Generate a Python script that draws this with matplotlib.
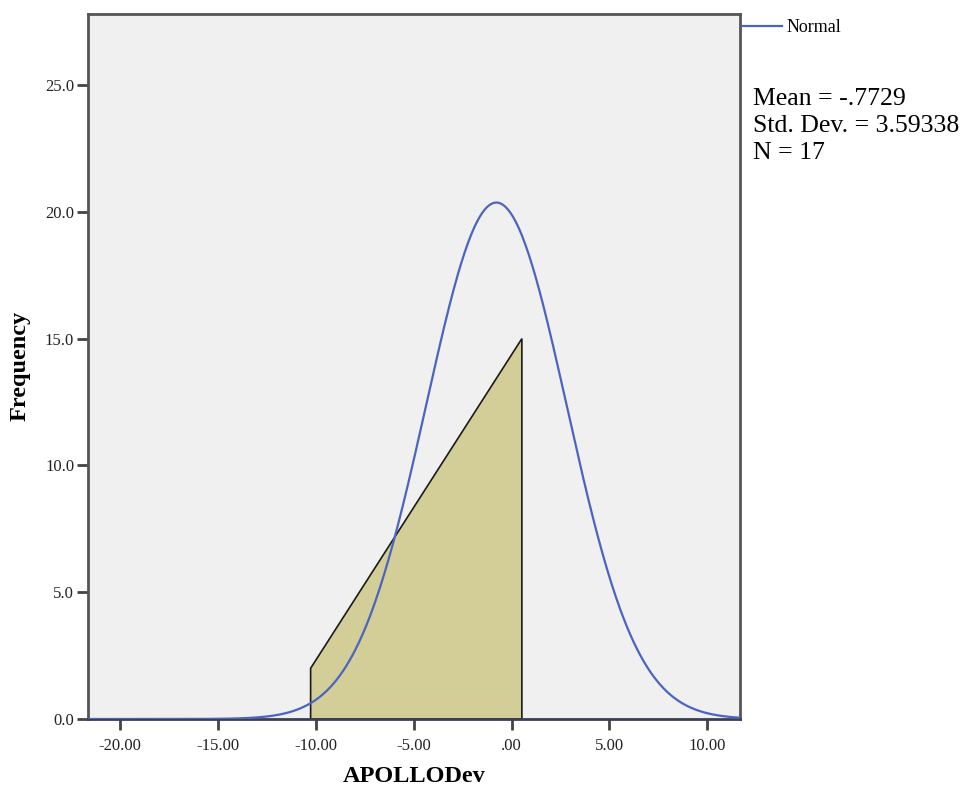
import numpy as np
import matplotlib
matplotlib.use("Agg")
import matplotlib.pyplot as plt

# Data
poly_x = [-10.26, -10.26, 0.53, 0.53]
poly_y = [0.0, 2.0, 15.0, 0.0]
mean = -0.7729
std = 3.59338
n = 17
bin_width = 10.79
xticks = [-20, -15, -10, -5, 0, 5, 10]
xticklabels = ["-20.00", "-15.00", "-10.00", "-5.00", ".00", "5.00", "10.00"]
yticks = [0, 5, 10, 15, 20, 25]
yticklabels = ["0.0", "5.0", "10.0", "15.0", "20.0", "25.0"]

plt.rcParams['font.family'] = ['Liberation Serif', 'DejaVu Serif']

fig = plt.figure(figsize=(9.64, 7.87), dpi=100)
ax = fig.add_axes([88/964, 1-719/787, (740-88)/964, (719-13.5)/787])
ax.set_facecolor('#f0f0f0')

ax.fill(poly_x, poly_y, facecolor='#d3ce97', edgecolor='#1a1a1a', linewidth=1.2, zorder=2)

xs = np.linspace(-21.63, 11.67, 600)
ys = n * bin_width / (std * np.sqrt(2*np.pi)) * np.exp(-0.5*((xs-mean)/std)**2)
ax.plot(xs, ys, color='#4a64c0', linewidth=1.6, zorder=3)

ax.set_xlim(-21.63, 11.67)
ax.set_ylim(0, 27.82)
ax.set_xticks(xticks)
ax.set_xticklabels(xticklabels)
ax.set_yticks(yticks)
ax.set_yticklabels(yticklabels)
ax.tick_params(axis='both', direction='out', length=8, width=2, color='#444444',
               labelsize=12, labelcolor='#222222')
ax.tick_params(axis='x', pad=6)
ax.tick_params(axis='y', pad=2)
for s in ax.spines.values():
    s.set_linewidth(2)
    s.set_color('#555555')
ax.spines['bottom'].set_color('#3a3f55')

ax.set_xlabel('APOLLODev', fontsize=17.5, fontweight='bold', labelpad=8)
ax.set_ylabel('Frequency', fontsize=17.5, fontweight='bold', labelpad=10)

# Legend (manual, outside axes)
fig.lines.append(plt.Line2D([743/964, 782/964], [1-26/787, 1-26/787],
                            transform=fig.transFigure, color='#4a64c0', linewidth=1.6))
fig.text(787/964, 1-28/787, 'Normal', fontsize=13, va='center', ha='left')
fig.text(753/964, 1-88/787, 'Mean = -.7729\nStd. Dev. = 3.59338\nN = 17',
         fontsize=18.5, va='top', ha='left', linespacing=1.3)

fig.savefig('out.png', dpi=100)
